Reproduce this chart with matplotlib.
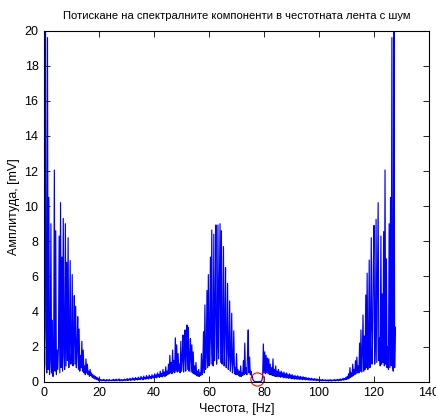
import numpy as np
import matplotlib
matplotlib.use("Agg")
import matplotlib.pyplot as plt

# Спектър (амплитуда, mV) по честота, стъпка 0.25 Hz
df = 0.25

amp_0_20 = [
    1.0, 3.0, 26.0, 1.0, 0.5, 19.6, 0.7, 10.5, 0.4, 1.2, 9.0, 0.5, 3.5, 0.3, 1.5, 12.06, 0.6, 8.6, 0.4, 1.8,
    0.7, 2.0, 8.3, 0.5, 10.2, 0.8, 7.1, 0.6, 9.3, 1.5, 0.7, 9.0, 0.9, 6.8, 1.2, 8.2, 0.8, 2.0, 6.9, 1.0,
    1.6, 6.1, 0.9, 2.2, 4.9, 1.0, 4.3, 0.8, 1.8, 3.7, 0.7, 3.0, 0.6, 1.5, 0.8, 2.3, 0.6, 1.8, 0.5, 0.9,
    0.4, 1.3, 0.5, 1.0, 0.4, 0.6, 0.3, 0.7, 0.35, 0.5, 0.25, 0.4, 0.2, 0.35, 0.15, 0.3, 0.12, 0.25, 0.1, 0.2,
]
amp_20_40 = [
    0.05, 0.15, 0.08, 0.12, 0.04, 0.1, 0.06, 0.14, 0.05, 0.09, 0.03, 0.12, 0.07, 0.1, 0.04, 0.13, 0.06, 0.08, 0.05, 0.11,
    0.06, 0.14, 0.04, 0.1, 0.07, 0.15, 0.05, 0.09, 0.08, 0.16, 0.04, 0.11, 0.06, 0.13, 0.05, 0.1, 0.07, 0.15, 0.06, 0.12,
    0.08, 0.18, 0.06, 0.14, 0.1, 0.2, 0.07, 0.16, 0.09, 0.22, 0.1, 0.17, 0.08, 0.24, 0.12, 0.19, 0.1, 0.26, 0.13, 0.2,
    0.12, 0.3, 0.15, 0.22, 0.11, 0.32, 0.16, 0.25, 0.14, 0.35, 0.18, 0.27, 0.15, 0.38, 0.2, 0.3, 0.17, 0.4, 0.22, 0.33,
]
amp_40_60 = [
    0.2, 0.45, 0.25, 0.38, 0.22, 0.5, 0.28, 0.42, 0.25, 0.6, 0.3, 0.48, 0.27, 0.7, 0.32, 0.55, 0.3, 0.85, 0.35, 0.6,
    0.4, 1.0, 0.45, 1.5, 0.5, 1.1, 0.45, 1.8, 0.55, 1.2, 0.5, 2.5, 0.6, 2.1, 0.55, 1.6, 0.6, 1.0, 0.5, 2.3,
    0.6, 1.2, 2.66, 0.55, 1.4, 2.95, 0.6, 1.5, 3.23, 0.7, 3.1, 0.6, 1.3, 2.45, 0.55, 2.1, 0.5, 1.7, 0.45, 0.9,
    0.4, 1.1, 0.35, 0.6, 0.3, 0.7, 0.3, 0.5, 0.35, 1.6, 0.4, 1.0, 2.85, 0.5, 4.37, 0.7, 1.5, 5.2, 0.8, 6.1,
]
amp_60_80 = [
    0.9, 2.5, 7.1, 1.0, 8.64, 1.5, 0.9, 8.4, 1.2, 4.0, 8.93, 1.0, 2.0, 8.93, 1.3, 5.0, 9.0, 1.1, 8.6, 1.0,
    2.2, 7.7, 0.9, 3.0, 6.5, 0.8, 1.8, 5.6, 0.7, 1.4, 4.6, 0.6, 1.2, 3.9, 0.5, 1.0, 2.9, 0.45, 0.8, 0.4,
    1.6, 0.4, 0.7, 0.35, 0.6, 0.3, 0.9, 0.3, 0.5, 0.35, 1.2, 0.4, 2.2, 0.45, 0.8, 0.4, 1.5, 2.95, 0.5, 1.4,
    0.4, 0.6, 0.25, 0.3, 0.1, 0.05, 0.02, 0.01, 0.0, 0.0, 0.0, 0.0, 0.0, 0.0, 0.0, 0.01, 0.03, 0.1, 0.3, 2.15,
]
amp_80_100 = [
    0.5, 1.7, 0.45, 1.5, 0.5, 1.35, 0.45, 1.3, 0.4, 1.0, 0.4, 0.8, 0.35, 1.3, 0.35, 0.7, 0.3, 0.9, 0.3, 0.6,
    0.28, 0.7, 0.3, 0.55, 0.25, 0.6, 0.28, 0.5, 0.22, 0.55, 0.25, 0.45, 0.2, 0.5, 0.22, 0.4, 0.18, 0.45, 0.2, 0.38,
    0.16, 0.4, 0.18, 0.33, 0.14, 0.36, 0.17, 0.3, 0.13, 0.34, 0.15, 0.28, 0.12, 0.3, 0.14, 0.26, 0.11, 0.28, 0.13, 0.24,
    0.1, 0.25, 0.12, 0.2, 0.09, 0.22, 0.1, 0.18, 0.08, 0.2, 0.09, 0.16, 0.07, 0.18, 0.08, 0.15, 0.06, 0.16, 0.07, 0.13,
]
amp_100_115 = [
    0.05, 0.14, 0.06, 0.11, 0.04, 0.13, 0.05, 0.1, 0.06, 0.12, 0.04, 0.09, 0.05, 0.11, 0.03, 0.1, 0.05, 0.12, 0.04, 0.09,
    0.05, 0.11, 0.06, 0.13, 0.04, 0.1, 0.07, 0.14, 0.05, 0.12, 0.08, 0.16, 0.06, 0.14, 0.1, 0.2, 0.08, 0.18, 0.12, 0.25,
    0.12, 0.3, 0.15, 0.45, 0.2, 0.8, 0.25, 0.5, 0.3, 1.0, 0.35, 0.7, 0.4, 1.2, 0.45, 1.4, 0.5, 0.9, 0.5, 2.2,
]
amp_115_128 = [
    0.6, 2.95, 0.55, 1.5, 3.8, 0.6, 2.6, 0.7, 4.94, 0.8, 6.18, 0.7, 2.0, 6.93, 0.8, 3.0, 8.2, 1.0, 2.5, 6.55,
    8.9, 1.0, 2.2, 9.25, 1.1, 5.9, 10.2, 1.2, 2.5, 0.9, 8.3, 1.0, 5.0, 1.1, 8.55, 0.9, 12.06, 1.0, 7.0, 0.8,
    2.0, 0.7, 9.0, 0.8, 10.5, 0.9, 19.6, 0.9, 0.6, 26.0, 0.8, 3.1,
]

# подтиснатата компонента (маркер)
notch_f = [77.3]
notch_a = [0.13]

amp = np.concatenate([amp_0_20, amp_20_40, amp_40_60, amp_60_80,
                      amp_80_100, amp_100_115, amp_115_128])
freq = np.arange(len(amp)) * df

plt.rcParams['font.family'] = ['Liberation Sans', 'DejaVu Sans']

fig = plt.figure(figsize=(4.36, 4.19), dpi=100)
ax = fig.add_axes([0.101, 0.089, 0.883, 0.838])

ax.plot(freq, amp, color='#0000ff', lw=0.85)
ax.plot(notch_f, notch_a, 'o', mfc='none', mec='red', ms=9.5, mew=0.8, clip_on=False)

ax.set_xlim(0, 140)
ax.set_ylim(0, 20)
ax.set_xticks(range(0, 141, 20))
ax.set_yticks(range(0, 21, 2))
ax.tick_params(direction='in', top=True, right=True, length=4, width=0.6, labelsize=9, pad=4)
for s in ax.spines.values():
    s.set_linewidth(0.8)

ax.set_title('Потискане на спектралните компоненти в честотната лента с шум', fontsize=8.1, pad=8)
ax.set_xlabel('Честота, [Hz]', fontsize=9, labelpad=3)
ax.set_ylabel('Амплитуда, [mV]', fontsize=9, labelpad=3)

fig.savefig('out.png', dpi=100)
